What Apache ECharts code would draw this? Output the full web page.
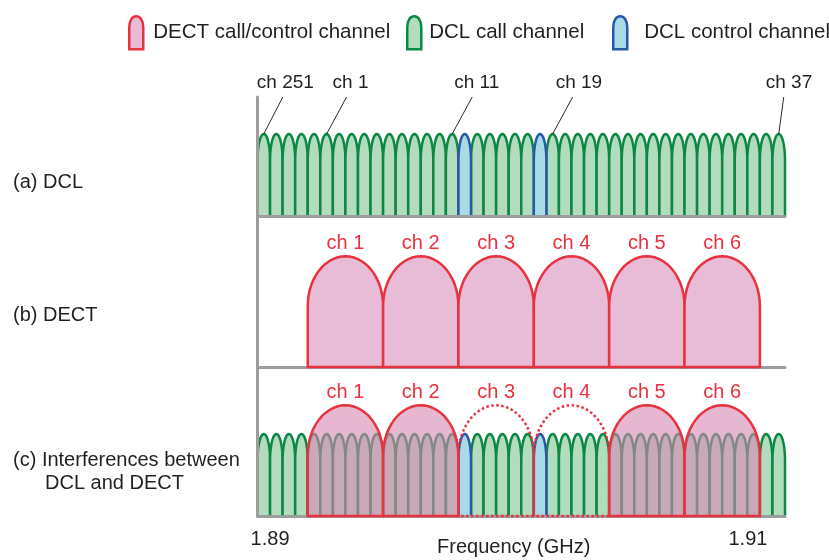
<!DOCTYPE html>
<html><head><meta charset="utf-8">
<script src="https://cdn.jsdelivr.net/npm/echarts@6/dist/echarts.min.js"></script>
<style>html,body{margin:0;padding:0;background:#fff}#c{width:829px;height:560px}</style>
</head><body><div id="c"></div>
<script>
// ---------------- data ----------------
// DCL channels in frequency order (one slot each on the x axis)
const dclChannels = [251,252,253,254,255,1,2,3,4,5,6,7,8,9,10,11,12,13,14,15,16,17,18,19,20,21,22,23,24,25,26,27,28,29,30,31,32,33,34,35,36,37];
const dclControlChannels = [12, 18];
const dclLevel = 1.0;
const dclLabeled = [251, 1, 11, 19, 37];
// DECT channels: centre and width in DCL-slot units
const dectChannels = ['ch 1','ch 2','ch 3','ch 4','ch 5','ch 6'];
const dectCenters = [7, 13, 19, 25, 31, 37];
const dectWidth = 6;
const dectLevel = 1.35;
// frequency axis tick labels
const freqTickValues = [1, 39.05];
const freqTickLabels = ['1.89', '1.91'];
const panelTitles = ['(a) DCL', '(b) DECT', '(c) Interferences between', 'DCL and DECT'];
const legendNames = ['DECT call/control channel', 'DCL call channel', 'DCL control channel'];

// ---------------- style / layout ----------------
const FONT = 'Liberation Sans, Arial, Helvetica, sans-serif';
const TXT = '#231f20';
const RED = '#e8323f', PINK = '#e8bbd6', OVER = 'rgba(212,135,178,0.6)';
const GREEN_S = '#0b8843', GREEN_F = '#b3dcbf';
const BLUE_S = '#2a58a8', BLUE_F = '#a9dbe7';
const AXIS = '#9d9d9d';
const unitPx = 82;
const gridDefs = [{top: 97, h: 119}, {top: 216, h: 151}, {top: 367, h: 149}];
const gridLeft = 257.5, gridWidth = 527.5;
const leaderRun = [19, 20, 20, 20, 5];
const labelShift = [-26, -14, -18, -17, -18];

function arch(api, xc, halfW, level, capFrac) {
  const capH = level * capFrac, side = level - capH, n = 28;
  const pts = [api.coord([xc - halfW, 0]), api.coord([xc - halfW, side])];
  for (let i = 1; i < n; i++) {
    const t = Math.PI - Math.PI * i / n;
    pts.push(api.coord([xc + halfW * Math.cos(t), side + capH * Math.sin(t)]));
  }
  pts.push(api.coord([xc + halfW, side]), api.coord([xc + halfW, 0]));
  return pts;
}

function dclRender(fill, stroke) {
  return function (params, api) {
    const pts = arch(api, api.value(0), 0.5, api.value(1), 0.32);
    return {type: 'group', children: [
      {type: 'polygon', shape: {points: pts}, style: {fill: fill, stroke: null}},
      {type: 'polyline', shape: {points: pts}, style: {fill: null, stroke: stroke, lineWidth: 2.5}}
    ]};
  };
}

function dectRender(panelC) {
  return function (params, api) {
    const xc = api.value(0), lv = api.value(1), bad = api.value(3);
    const pts = arch(api, xc, dectWidth / 2, lv, 0.45);
    const top = api.coord([xc, lv]);
    let style;
    if (!panelC) style = {fill: PINK, stroke: RED, lineWidth: 2.5};
    else if (bad) style = {fill: null, stroke: RED, lineWidth: 2.5, lineDash: [2.5, 2.5]};
    else style = {fill: OVER, stroke: RED, lineWidth: 2.5};
    return {type: 'group', children: [
      {type: 'polygon', shape: {points: pts}, style: style},
      {type: 'text', x: top[0], y: top[1] - 13, style: {text: api.value(2), fill: RED, font: '20px ' + FONT, align: 'center', verticalAlign: 'middle'}}
    ]};
  };
}

function slotOf(ch) { return dclChannels.indexOf(ch) + 0.5; }
const dclCallData = dclChannels.filter(c => dclControlChannels.indexOf(c) < 0).map(c => [slotOf(c), dclLevel, c]);
const dclCtrlData = dclControlChannels.map(c => [slotOf(c), dclLevel, c]);
const dectData = dectChannels.map((n, i) => {
  const lo = dectCenters[i] - dectWidth / 2, hi = dectCenters[i] + dectWidth / 2;
  const hit = dclControlChannels.some(c => { const s = slotOf(c); return s > lo && s < hi; }) ? 1 : 0;
  return [dectCenters[i], dectLevel, n, hit];
});
const labelData = dclLabeled.map(c => [slotOf(c), dclLevel, 'ch ' + c]);

const bulletIcon = 'path://M0,33 L0,11 C0,-3.5 14,-3.5 14,11 L14,33 Z';

const grids = gridDefs.map(g => ({left: gridLeft, width: gridWidth, top: g.top, height: g.h, containLabel: false, outerBoundsMode: 'none'}));
const xAxes = gridDefs.map((g, i) => {
  const ax = {type: 'value', gridIndex: i, min: 0, max: dclChannels.length, z: 3,
    axisLine: {show: true, onZero: false, lineStyle: {color: AXIS, width: 3}},
    axisTick: {show: false}, splitLine: {show: false}, axisLabel: {show: false}};
  if (i === 2) {
    ax.axisLabel = {show: true, customValues: freqTickValues, margin: 13, fontSize: 20, color: TXT, fontFamily: FONT,
      formatter: v => { let k = 0; freqTickValues.forEach((t, j) => { if (Math.abs(t - v) < 1e-6) k = j; }); return freqTickLabels[k]; }};
    ax.name = 'Frequency (GHz)';
    ax.nameLocation = 'middle';
    ax.nameGap = 21;
    ax.nameMoveOverlap = false;
    ax.nameTextStyle = {fontSize: 20, color: TXT, fontFamily: FONT, padding: [0, 15, 0, 0]};
  }
  return ax;
});
const yAxes = gridDefs.map((g, i) => ({type: 'value', gridIndex: i, min: 0, max: g.h / unitPx, z: 3,
  axisLine: {show: true, lineStyle: {color: AXIS, width: 3}}, axisTick: {show: false},
  splitLine: {show: false}, axisLabel: {show: false}}));

function legendItem(left, idx, fill, stroke, pad) {
  return {left: left, top: 15, padding: 0, itemWidth: 14, itemHeight: 33, selectedMode: false,
    textStyle: {fontSize: 20.5, color: TXT, fontFamily: FONT, padding: [0, 0, 0, pad]},
    data: [{name: legendNames[idx], icon: bulletIcon, itemStyle: {color: fill, borderColor: stroke, borderWidth: 2.5}}]};
}

const series = [
  {type: 'custom', name: legendNames[1], xAxisIndex: 0, yAxisIndex: 0, z: 2, clip: false, renderItem: dclRender(GREEN_F, GREEN_S), data: dclCallData, itemStyle: {color: GREEN_F, borderColor: GREEN_S}},
  {type: 'custom', name: legendNames[2], xAxisIndex: 0, yAxisIndex: 0, z: 2, clip: false, renderItem: dclRender(BLUE_F, BLUE_S), data: dclCtrlData, itemStyle: {color: BLUE_F, borderColor: BLUE_S}},
  {type: 'custom', name: 'labels', xAxisIndex: 0, yAxisIndex: 0, z: 5, clip: false, data: labelData,
    renderItem: function (params, api) {
      const i = params.dataIndex;
      const p = api.coord([api.value(0), api.value(1)]);
      const topY = api.coord([api.value(0), gridDefs[0].h / unitPx])[1];
      const tx = p[0] + leaderRun[i];
      return {type: 'group', children: [
        {type: 'line', shape: {x1: p[0], y1: p[1], x2: tx, y2: topY}, style: {stroke: '#2b2b2b', lineWidth: 1}},
        {type: 'text', x: tx + labelShift[i], y: topY - 14, style: {text: api.value(2), fill: TXT, font: '19px ' + FONT, align: 'left', verticalAlign: 'middle'}}
      ]};
    }},
  {type: 'custom', name: legendNames[0], xAxisIndex: 1, yAxisIndex: 1, z: 4, clip: false, renderItem: dectRender(false), data: dectData, itemStyle: {color: PINK, borderColor: RED}},
  {type: 'custom', name: legendNames[1], xAxisIndex: 2, yAxisIndex: 2, z: 2, clip: false, renderItem: dclRender(GREEN_F, GREEN_S), data: dclCallData},
  {type: 'custom', name: legendNames[2], xAxisIndex: 2, yAxisIndex: 2, z: 2, clip: false, renderItem: dclRender(BLUE_F, BLUE_S), data: dclCtrlData},
  {type: 'custom', name: legendNames[0], xAxisIndex: 2, yAxisIndex: 2, z: 4, clip: false, renderItem: dectRender(true), data: dectData}
];

const titleText = (text, x, y) => ({type: 'text', x: x, y: y, style: {text: text, fill: TXT, font: '20px ' + FONT, verticalAlign: 'middle'}});

const chart = echarts.init(document.getElementById('c'), null, {renderer: 'canvas'});
chart.setOption({
  animation: false,
  backgroundColor: '#fff',
  textStyle: {fontFamily: FONT},
  grid: grids,
  xAxis: xAxes,
  yAxis: yAxes,
  legend: [
    legendItem(128, 0, PINK, RED, 5),
    legendItem(406, 1, GREEN_F, GREEN_S, 3),
    legendItem(612, 2, BLUE_F, BLUE_S, 12)
  ],
  graphic: [
    titleText(panelTitles[0], 13, 182),
    titleText(panelTitles[1], 13, 315),
    titleText(panelTitles[2], 13, 460),
    titleText(panelTitles[3], 45, 483)
  ],
  series: series
});
</script>
</body></html>
